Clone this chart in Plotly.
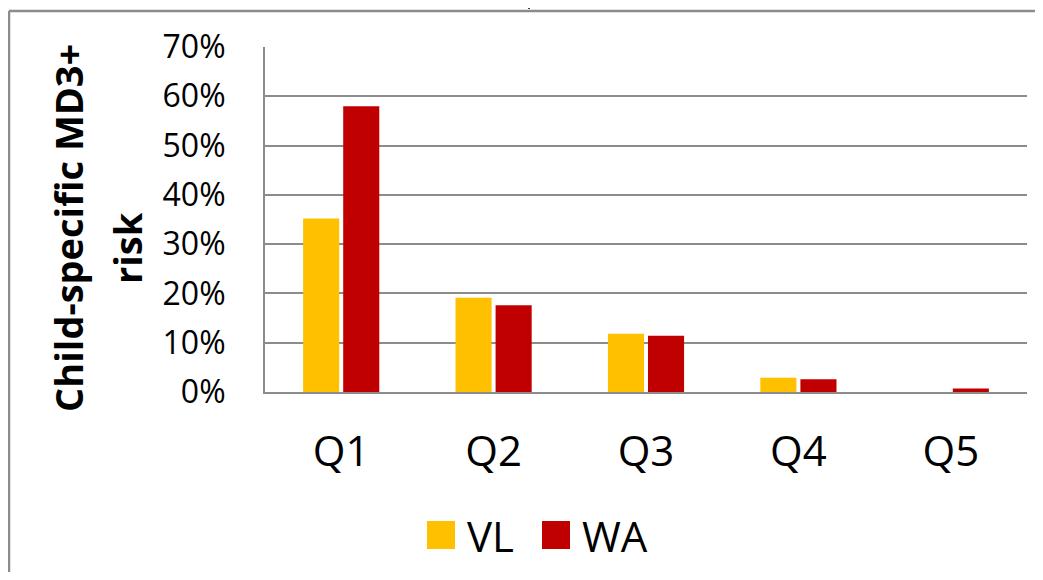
import plotly.graph_objects as go

categories = ["Q1", "Q2", "Q3", "Q4", "Q5"]
vl_values = [0.352, 0.191, 0.118, 0.029, 0.0]
wa_values = [0.580, 0.176, 0.114, 0.026, 0.007]
series_names = ["VL", "WA"]
series_colors = ["#FFC000", "#C00000"]
y_tick_vals = [0, 0.1, 0.2, 0.3, 0.4, 0.5, 0.6, 0.7]
y_tick_text = ["0%", "10%", "20%", "30%", "40%", "50%", "60%", "70%"]
y_title_lines = ["Child-specific MD3+", "risk"]

OFF = 8  # page body margin of the html page
PAGE_W, PAGE_H = 1043, 580
W, H = PAGE_W - 2 * OFF, PAGE_H - 2 * OFF  # keep the figure inside the viewport
L, R, T, B = 265, 1027, 47, 392  # plot area in page pixels

FONT = "Open Sans, Liberation Sans, sans-serif"

fig = go.Figure()
for name, vals, col in zip(series_names, [vl_values, wa_values], series_colors):
    fig.add_trace(go.Bar(x=categories, y=vals, name=name, showlegend=False,
                         marker=dict(color=col, line=dict(width=0))))


def px_x(p):
    return (p - L) / (R - L)


def px_y(p):
    return (B - p) / (B - T)


border = dict(color="#8c8c8c", width=2.5)
shapes = [
    dict(type="line", xref="paper", yref="paper",
         x0=px_x(9), x1=px_x(PAGE_W + 40), y0=px_y(11), y1=px_y(11),
         line=border, layer="below"),
    dict(type="line", xref="paper", yref="paper",
         x0=px_x(9), x1=px_x(9), y0=px_y(11), y1=px_y(PAGE_H + 40),
         line=border, layer="below"),
    dict(type="line", xref="paper", yref="paper",
         x0=px_x(529), x1=px_x(529), y0=px_y(0), y1=px_y(9),
         line=dict(color="black", width=1.5)),
]
annotations = []

# y-axis title (two separately placed lines)
for text, cx, cy in zip(y_title_lines, [68, 127], [228, 248]):
    annotations.append(dict(text="<b>%s</b>" % text, xref="paper", yref="paper",
                            x=px_x(cx), y=px_y(cy), xanchor="center", yanchor="middle",
                            textangle=-90, showarrow=False,
                            font=dict(size=38, family=FONT, color="black")))

# manual legend with large squares
legend_sq_x = [427, 542]
for name, col, sx in zip(series_names, series_colors, legend_sq_x):
    shapes.append(dict(type="rect", xref="paper", yref="paper",
                       x0=px_x(sx), x1=px_x(sx + 28), y0=px_y(549), y1=px_y(521),
                       line=dict(width=0), fillcolor=col))
    annotations.append(dict(text=name, xref="paper", yref="paper",
                            x=px_x(sx + 38), y=px_y(535), xanchor="left", yanchor="middle",
                            showarrow=False, font=dict(size=42, family=FONT, color="black")))

fig.update_layout(
    width=W, height=H,
    margin=dict(l=L - OFF, r=W - (R - OFF), t=T - OFF, b=H - (B - OFF), pad=0),
    paper_bgcolor="white", plot_bgcolor="white",
    barmode="group", bargap=0.474, bargroupgap=0.1,
    font=dict(family=FONT, color="black"),
    showlegend=False,
    xaxis=dict(showgrid=False, showline=True, linecolor="#8c8c8c", linewidth=2,
               ticks="outside", ticklen=22, tickcolor="rgba(0,0,0,0)",
               tickfont=dict(size=42, family=FONT)),
    yaxis=dict(range=[0, 0.7], tickvals=y_tick_vals, ticktext=y_tick_text,
               showgrid=True, gridcolor="#8c8c8c", gridwidth=2,
               showline=True, linecolor="#8c8c8c", linewidth=2, zeroline=False,
               ticks="outside", ticklen=31, tickcolor="rgba(0,0,0,0)",
               tickfont=dict(size=32, family=FONT)),
    shapes=shapes,
    annotations=annotations,
)

fig.write_html("out.html")
